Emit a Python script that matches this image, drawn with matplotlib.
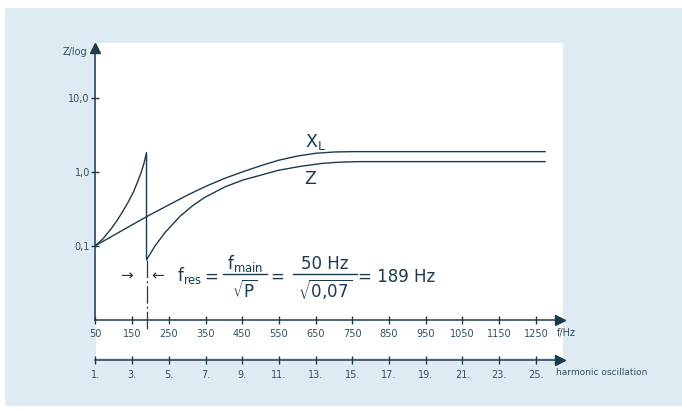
import matplotlib
matplotlib.use("Agg")
import matplotlib.pyplot as plt
from matplotlib.patches import Rectangle
from matplotlib.lines import Line2D

plt.rcParams["font.family"] = ["DejaVu Sans"]
plt.rcParams["mathtext.fontset"] = "dejavusans"
plt.rcParams["mathtext.default"] = "regular"

# ---- data -------------------------------------------------------------
base_freq = 50                      # mains frequency, Hz
f_res = 189                         # resonance frequency, Hz
freq_ticks = [50, 150, 250, 350, 450, 550, 650, 750, 850, 950, 1050, 1150, 1250]
harmonics = [1, 3, 5, 7, 9, 11, 13, 15, 17, 19, 21, 23, 25]
y_ticks = [0.1, 1.0, 10.0]
y_tick_labels = ["0,1", "1,0", "10,0"]

# inductive reactance X_L
xl_freq = [50, 100, 150, 200, 250, 300, 350, 400, 450, 500, 550, 600, 650,
           700, 750, 800, 1275]
xl_vals = [0.1, 0.138, 0.191, 0.263, 0.355, 0.479, 0.631, 0.804, 0.989,
           1.202, 1.429, 1.622, 1.770, 1.841, 1.862, 1.862, 1.862]

# impedance Z below resonance (rises to the peak)
z_low_freq = [50, 70, 94, 109, 124, 139, 154, 164, 174, 182, 189]
z_low_vals = [0.1, 0.123, 0.172, 0.219, 0.288, 0.387, 0.537, 0.714, 0.96,
              1.291, 1.806]

# impedance Z above resonance
z_high_freq = [189, 212, 239, 280, 313, 346, 403, 453, 498, 547, 607, 667,
               716, 771, 1275]
z_high_vals = [0.064, 0.0985, 0.149, 0.248, 0.341, 0.443, 0.623, 0.773, 0.889,
               1.038, 1.175, 1.291, 1.343, 1.365, 1.365]

# ---- style ------------------------------------------------------------
W, H = 682, 411
line_col = "#1c3a4e"
text_col = "#34505f"
panel_blue = "#dfebf3"

fig = plt.figure(figsize=(W / 100, H / 100), dpi=100)
fig.patch.set_facecolor("white")


def fx(x):
    return x / W


def fy(y):
    return 1 - y / H


def px_rect(x0, y0, x1, y1):
    return (fx(x0), fy(y1)), (x1 - x0) / W, (y1 - y0) / H


xy, w, h = px_rect(5, 8, 682, 406)
fig.patches.append(Rectangle(xy, w, h, transform=fig.transFigure,
                             facecolor=panel_blue, edgecolor="none", zorder=-10))
xy, w, h = px_rect(96, 43, 563, 358)
fig.patches.append(Rectangle(xy, w, h, transform=fig.transFigure,
                             facecolor="white", edgecolor="none", zorder=-9))

ax_left, ax_right = 95.5, 559.5
ax_top, ax_bottom = 48.5, 319.5
ax = fig.add_axes([fx(ax_left), fy(ax_bottom),
                   (ax_right - ax_left) / W, (ax_bottom - ax_top) / H])
ax.set_facecolor("none")
ax.set_yscale("log")
ax.set_xlim(50, 50 + (ax_right - ax_left) / 0.367)
ax.set_ylim(0.01, 0.1 * 10 ** ((245.7 - ax_top) / 74))

for s in ("top", "right"):
    ax.spines[s].set_visible(False)
for s in ("left", "bottom"):
    ax.spines[s].set_color(line_col)
    ax.spines[s].set_linewidth(1.1)

ax.plot([1], [0], marker=">", ms=7, color=line_col, transform=ax.transAxes,
        clip_on=False)
ax.plot([0], [1], marker="^", ms=7, color=line_col, transform=ax.transAxes,
        clip_on=False)

ax.set_xticks(freq_ticks)
ax.set_xticklabels([str(f) for f in freq_ticks])
ax.set_yticks(y_ticks)
ax.set_yticklabels(y_tick_labels)
ax.yaxis.set_minor_locator(matplotlib.ticker.NullLocator())
ax.tick_params(axis="both", direction="inout", length=6, width=1,
               color=line_col, labelcolor=text_col, labelsize=7)
ax.tick_params(axis="x", pad=4)
ax.tick_params(axis="y", pad=1)

# curves
ax.plot(xl_freq, xl_vals, color=line_col, lw=1.0)
ax.plot(z_low_freq + z_high_freq, z_low_vals + z_high_vals,
        color=line_col, lw=1.0)
ax.plot([f_res, f_res], [z_high_vals[0], 0.0075], color=line_col, lw=0.9,
        dashes=[14, 2.5, 1.5, 2.5], clip_on=False)

# curve labels
ax.text(620, 2.16, "$X_L$", color=line_col, fontsize=12.5,
        ha="left", va="baseline")
ax.text(618, 0.69, "Z", color=line_col, fontsize=12.5,
        ha="left", va="baseline")

# arrows marking the resonance
ax.annotate("→", xy=(f_res, 0.039), xytext=(-20, 0), textcoords="offset pixels",
            ha="center", va="center", fontsize=11, color=line_col)
ax.annotate("←", xy=(f_res, 0.039), xytext=(11, 0), textcoords="offset pixels",
            ha="center", va="center", fontsize=11, color=line_col)

# resonance formula
fs = 12
base_y = 281.5
num_y = 268.5
den_y = 297.5
bar_y = 274.0


def ftext(x, y, s, ha="center"):
    fig.text(fx(x), fy(y), s, fontsize=fs, color=line_col, ha=ha,
             va="baseline")


ftext(177, base_y, r"$f_{res}$", ha="left")
ftext(211.5, base_y, "=")
fig.add_artist(Line2D([fx(223), fx(267)], [fy(bar_y)] * 2, color=line_col,
                      lw=1.0))
ftext(245, num_y, r"$f_{main}$")
ftext(245, den_y, r"$\sqrt{P}$")
ftext(277.5, base_y, "=")
fig.add_artist(Line2D([fx(293), fx(357)], [fy(bar_y)] * 2, color=line_col,
                      lw=1.0))
ftext(325, num_y, "50 Hz")
ftext(325, den_y, r"$\sqrt{0{,}07}$")
ftext(358, base_y, "= 189 Hz", ha="left")

# second axis: harmonic order
ax2 = fig.add_axes([fx(ax_left), fy(360), (ax_right - ax_left) / W, 0.0001])
ax2.set_facecolor("none")
ax2.set_xlim(ax.get_xlim())
ax2.set_yticks([])
for s in ("top", "right", "left"):
    ax2.spines[s].set_visible(False)
ax2.spines["bottom"].set_color(line_col)
ax2.spines["bottom"].set_linewidth(1.1)
ax2.set_xticks([n * base_freq for n in harmonics])
ax2.set_xticklabels([f"{n}." for n in harmonics])
ax2.tick_params(axis="x", direction="inout", length=6, width=1,
                color=line_col, labelcolor=text_col, labelsize=7, pad=4)
ax2.plot([1], [0], marker=">", ms=7, color=line_col, transform=ax2.transAxes,
         clip_on=False)

# axis titles
fig.text(fx(87), fy(52), "Z/log", fontsize=7, color=text_col,
         ha="right", va="center")
fig.text(fx(557), fy(333), "f/Hz", fontsize=7, color=text_col,
         ha="left", va="center")
fig.text(fx(556), fy(372), "harmonic oscillation", fontsize=6.5,
         color=text_col, ha="left", va="center")

fig.savefig("out.png", dpi=100)
